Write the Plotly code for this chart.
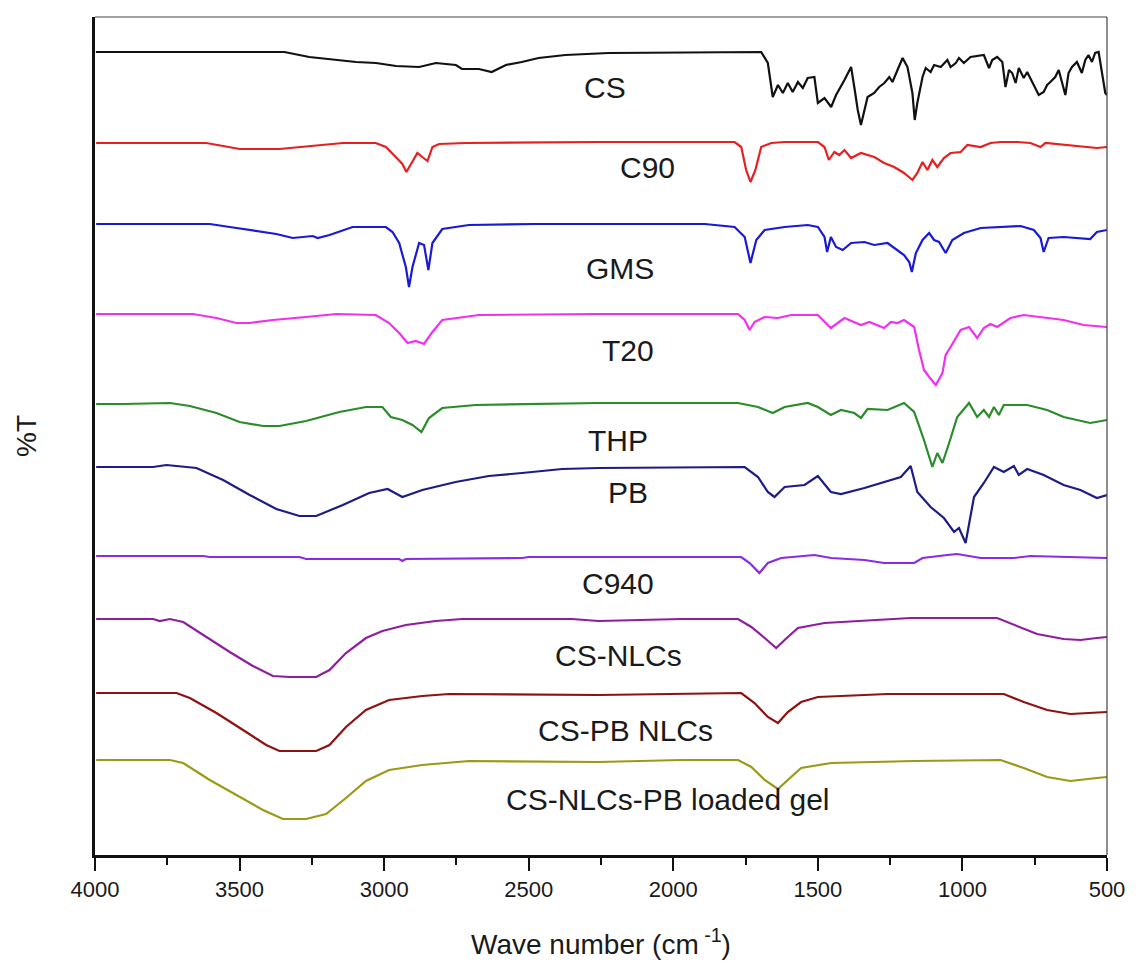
import plotly.graph_objects as go

# ---------------- data (wavenumber cm-1, %T with vertical offset) ----------------
cs_wn = [3997, 3345, 3259, 3097, 3028, 2959, 2879, 2821, 2752, 2731, 2672, 2628, 2579, 2524, 2466, 2373, 2224,
         1903, 1696, 1673, 1656, 1638, 1621, 1604, 1587, 1569, 1552, 1535, 1512, 1500, 1477, 1454, 1437, 1408,
         1385, 1374, 1362, 1351, 1339, 1328, 1305, 1288, 1270, 1253, 1242, 1225, 1207, 1190, 1173, 1165, 1156,
         1138, 1127, 1110, 1098, 1075, 1052, 1041, 1023, 1012, 995, 972, 926, 908, 897, 880, 862, 851, 839, 828,
         816, 805, 788, 776, 753, 736, 719, 707, 696, 679, 667, 656, 644, 633, 621, 604, 587, 575, 564, 552, 541,
         529, 518, 506, 500]
cs_t = [803, 803, 798, 793, 792, 789, 788, 792, 790, 786, 786, 783, 790, 793, 797, 800, 802,
        803, 803, 792, 758, 770, 762, 772, 763, 773, 767, 777, 778, 752, 757, 748, 760, 775,
        788, 768, 745, 730, 745, 758, 762, 768, 772, 778, 773, 785, 797, 788, 762, 735, 752,
        778, 787, 783, 790, 788, 795, 788, 792, 797, 792, 798, 800, 787, 795, 798, 793, 768, 785, 782,
        772, 787, 777, 783, 770, 760, 763, 770, 773, 778, 785, 773, 760, 782, 788, 793, 782, 795, 800, 793, 802,
        803, 785, 762, 760]

c90_wn = [3996, 3615, 3557, 3500, 3362, 3293, 3143, 3029, 2994, 2960, 2937, 2923, 2908, 2885, 2868, 2850, 2833,
          2810, 2718, 2259, 1788, 1765, 1748, 1733, 1716, 1696, 1661, 1615, 1500, 1477, 1462, 1443, 1426, 1408,
          1385, 1351, 1305, 1271, 1236, 1202, 1173, 1156, 1138, 1121, 1104, 1087, 1064, 1041, 1006, 983, 937,
          903, 868, 811, 765, 730, 713, 650, 535, 500]
c90_t = [712, 712, 709, 706, 706, 708, 712, 712, 708, 698, 691, 683, 690, 702, 698, 694, 708,
         711, 712, 713, 713, 708, 685, 673, 685, 708, 712, 713, 713, 708, 695, 703, 700, 705,
         697, 702, 698, 692, 688, 682, 675, 682, 693, 685, 695, 688, 697, 702, 703, 710, 708,
         712, 713, 713, 712, 708, 712, 710, 707, 708]

gms_wn = [3996, 3603, 3534, 3442, 3373, 3316, 3270, 3247, 3230, 3189, 3109, 2994, 2971, 2948, 2925, 2914, 2902,
          2879, 2862, 2847, 2833, 2799, 2707, 2477, 2259, 1891, 1788, 1753, 1733, 1713, 1684, 1615, 1535, 1500,
          1477, 1468, 1455, 1437, 1414, 1385, 1339, 1305, 1259, 1224, 1202, 1184, 1175, 1161, 1138, 1115, 1098,
          1081, 1058, 1035, 995, 937, 880, 799, 753, 730, 719, 702, 650, 558, 535, 500]
gms_t = [631, 631, 628, 624, 621, 617, 618, 619, 617, 620, 628, 628, 623, 612, 588, 568, 588,
         612, 610, 585, 612, 626, 630, 631, 631, 631, 628, 618, 592, 615, 625, 628, 630, 628,
         618, 603, 618, 608, 605, 612, 613, 610, 612, 605, 600, 593, 583, 602, 615, 622, 615,
         613, 602, 615, 622, 627, 628, 629, 625, 617, 603, 617, 618, 616, 623, 625]

t20_wn = [3996, 3661, 3580, 3511, 3465, 3385, 3270, 3166, 3029, 2983, 2948, 2919, 2891, 2862, 2833, 2799, 2672,
          2259, 1776, 1753, 1736, 1719, 1684, 1638, 1592, 1500, 1466, 1455, 1408, 1351, 1322, 1294, 1271, 1247,
          1225, 1202, 1167, 1150, 1133, 1115, 1092, 1069, 1058, 1041, 1006, 977, 949, 926, 903, 880, 834, 788,
          730, 650, 581, 500]
t20_t = [541, 541, 537, 532, 532, 535, 538, 541, 540, 532, 522, 512, 514, 511, 523, 535, 540,
         541, 541, 535, 525, 533, 538, 537, 540, 540, 530, 527, 537, 530, 533, 530, 527, 533,
         532, 535, 528, 505, 485, 478, 470, 482, 500, 508, 525, 528, 517, 527, 531, 528, 537, 540,
         538, 535, 530, 528]

thp_wn = [3996, 3902, 3741, 3672, 3580, 3500, 3419, 3362, 3270, 3155, 3063, 3006, 2977, 2937, 2902, 2871, 2845,
          2799, 2684, 2259, 1776, 1707, 1656, 1615, 1535, 1500, 1455, 1420, 1374, 1351, 1328, 1259, 1202, 1167,
          1133, 1104, 1087, 1069, 1046, 1018, 977, 949, 926, 908, 891, 874, 857, 776, 707, 650, 558, 500]
thp_t = [451, 451, 452, 449, 442, 433, 429, 429, 434, 443, 448, 448, 438, 435, 430, 423, 437,
         447, 450, 452, 452, 448, 442, 448, 452, 448, 440, 445, 442, 437, 446, 445, 452, 443,
         415, 388, 402, 392, 412, 438, 452, 438, 445, 438, 448, 440, 450, 450, 445, 438, 432, 435]

pb_wn = [3996, 3799, 3753, 3649, 3557, 3465, 3373, 3293, 3235, 3143, 3052, 2988, 2937, 2868, 2753, 2638, 2523,
         2385, 2259, 1914, 1753, 1707, 1673, 1650, 1615, 1546, 1500, 1455, 1420, 1339, 1271, 1213, 1179, 1156,
         1110, 1064, 1029, 1012, 989, 977, 960, 926, 891, 857, 822, 805, 776, 719, 650, 592, 558, 535, 500]
pb_t = [388, 388, 390, 387, 375, 360, 346, 339, 339, 350, 362, 366, 358, 365, 373, 379, 382,
        386, 387, 388, 388, 378, 363, 358, 368, 370, 379, 363, 361, 367, 373, 378, 389, 363,
        348, 337, 323, 327, 312, 332, 358, 372, 388, 383, 389, 380, 386, 380, 370, 365, 360, 357, 360]

c940_wn = [3996, 3626, 3603, 3293, 3270, 2948, 2937, 2925, 2523, 2500, 2259, 1765, 1736, 1702, 1673, 1627, 1512,
           1454, 1339, 1271, 1167, 1138, 1052, 1018, 937, 822, 765, 650, 500]
c940_t = [299, 299, 298, 298, 296, 296, 294, 296, 297, 298, 298, 298, 292, 282, 292, 297, 300,
          297, 295, 292, 292, 297, 300, 301, 297, 297, 299, 298, 297]

csnlc_wn = [3996, 3799, 3776, 3741, 3695, 3615, 3534, 3454, 3385, 3327, 3235, 3189, 3132, 3063, 3006, 2925, 2822,
            2730, 2350, 2259, 1972, 1776, 1730, 1684, 1644, 1615, 1569, 1477, 1316, 1179, 880, 822, 742, 650, 592,
            535, 500]
csnlc_t = [236, 236, 234, 236, 233, 218, 203, 189, 179, 178, 178, 185, 202, 217, 224, 230, 234,
           236, 236, 234, 236, 236, 228, 217, 207, 215, 227, 232, 235, 237, 237, 230, 221, 216, 215,
           217, 218]

cspb_wn = [3996, 3718, 3672, 3580, 3488, 3408, 3362, 3235, 3189, 3132, 3063, 2983, 2868, 2776, 2259, 2018, 1765,
           1719, 1673, 1638, 1604, 1558, 1500, 1259, 857, 788, 707, 627, 535, 500]
cspb_t = [162, 162, 157, 142, 125, 110, 104, 104, 110, 128, 145, 155, 159, 161, 160, 161, 162,
          152, 138, 132, 143, 153, 158, 161, 161, 153, 145, 141, 142, 143]

gel_wn = [3996, 3741, 3695, 3603, 3511, 3419, 3350, 3270, 3201, 3132, 3063, 2983, 2868, 2707, 2259, 1972, 1776,
          1730, 1684, 1638, 1604, 1558, 1454, 1167, 868, 788, 707, 627, 535, 500]
gel_t = [95, 95, 92, 75, 60, 45, 36, 36, 41, 57, 74, 85, 90, 94, 93, 95, 95,
         88, 75, 66, 75, 87, 92, 94, 95, 87, 78, 74, 77, 78]

series_names = ["CS", "C90", "GMS", "T20", "THP", "PB", "C940", "CS-NLCs", "CS-PB NLCs", "CS-NLCs-PB loaded gel"]
series_x = [cs_wn, c90_wn, gms_wn, t20_wn, thp_wn, pb_wn, c940_wn, csnlc_wn, cspb_wn, gel_wn]
series_y = [cs_t, c90_t, gms_t, t20_t, thp_t, pb_t, c940_t, csnlc_t, cspb_t, gel_t]
series_colors = ["#111111", "#e62020", "#1a1ad6", "#f030f0", "#2a8c2a", "#1c1c86", "#8a2be8", "#8e1e9e", "#8e1212", "#9a9a16"]

# label positions (wavenumber, offset %T)
label_x = [2235, 2090, 2183, 2155, 2190, 2155, 2190, 2190, 2166, 2021]
label_y = [768, 688, 587, 505, 415, 363, 272, 200, 125, 56]

xticks = [4000, 3500, 3000, 2500, 2000, 1500, 1000, 500]

fig = go.Figure()
for name, xs, ys, col in zip(series_names, series_x, series_y, series_colors):
    fig.add_trace(go.Scatter(x=xs, y=ys, mode="lines", name=name,
                             line=dict(color=col, width=2.2), showlegend=False))

for name, lx, ly in zip(series_names, label_x, label_y):
    fig.add_annotation(x=lx, y=ly, text=name, showarrow=False, xanchor="center", yanchor="middle",
                       font=dict(family="Liberation Sans, Arial", size=30, color="#1a1a1a"))

# thin frame on top/right
fig.add_shape(type="line", xref="paper", yref="paper", x0=0, x1=1, y0=1, y1=1,
              line=dict(color="#444444", width=1.2))
fig.add_shape(type="line", xref="paper", yref="paper", x0=1, x1=1, y0=0, y1=1,
              line=dict(color="#444444", width=1.2))

fig.update_layout(
    width=1137, height=976,
    margin=dict(l=95, r=27, t=17, b=121),
    paper_bgcolor="white", plot_bgcolor="white",
    font=dict(family="Liberation Sans, Arial", color="#1a1a1a"),
    xaxis=dict(range=[4000, 500], tickvals=xticks, ticks="outside", ticklen=13, tickwidth=2,
               tickcolor="#111111", showline=True, linecolor="#111111", linewidth=2.5,
               showgrid=False, zeroline=False, tickfont=dict(size=22, color="#1a1a1a"),
               minor=dict(dtick=250, ticks="outside", ticklen=7, tickwidth=2, tickcolor="#111111", showgrid=False),
               title=dict(text="Wave number (cm<sup> -1</sup>)", font=dict(size=28, color="#1a1a1a"), standoff=34)),
    yaxis=dict(range=[0, 838], showticklabels=False, ticks="", showgrid=False, zeroline=False,
               showline=True, linecolor="#111111", linewidth=2.5,
               title=dict(text="%T", font=dict(size=28, color="#1a1a1a"), standoff=48)),
)

fig.write_html("out.html")
